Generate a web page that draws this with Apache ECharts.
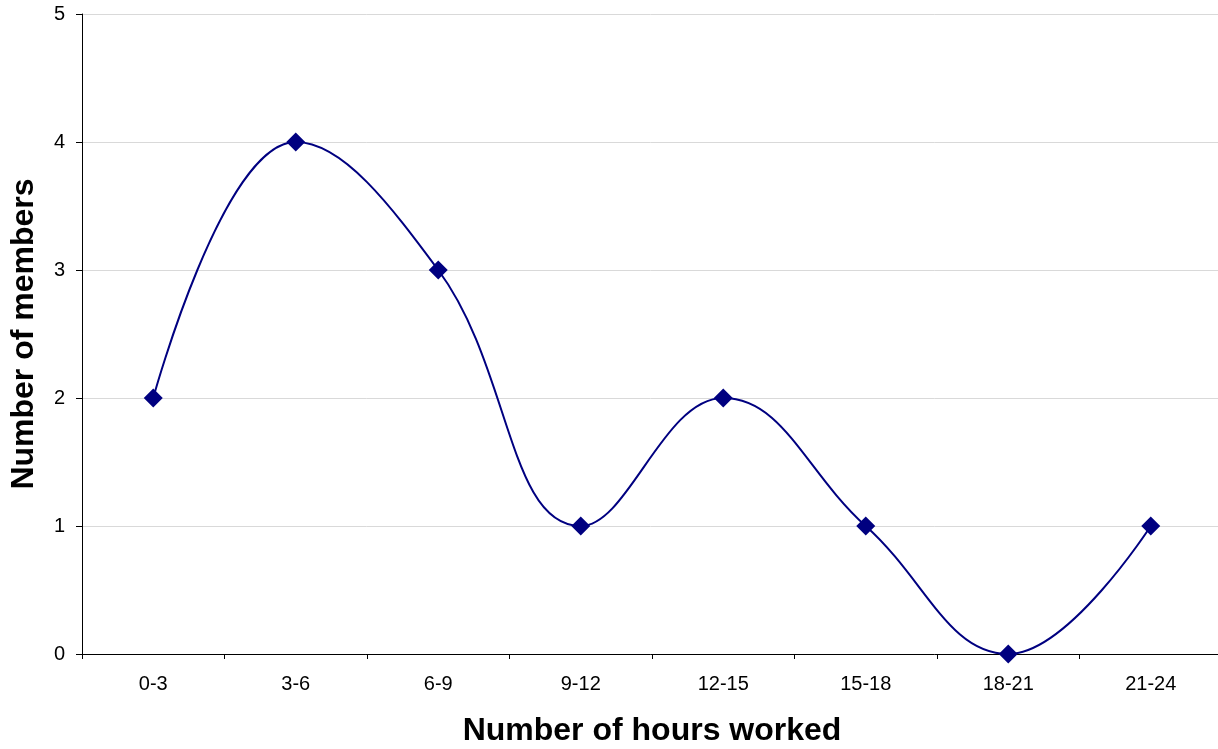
<!DOCTYPE html>
<html>
<head>
<meta charset="utf-8">
<script src="https://cdn.jsdelivr.net/npm/echarts@6/dist/echarts.min.js"></script>
<style>
html,body{margin:0;padding:0;background:#fff;}
#chart{width:1218px;height:749px;}
</style>
</head>
<body>
<div id="chart"></div>
<script>
const categories = ['0-3','3-6','6-9','9-12','12-15','15-18','18-21','21-24'];
const members = [2,4,3,1,2,1,0,1];
const yTicks = [0,1,2,3,4,5];
const xTitle = 'Number of hours worked';
const yTitle = 'Number of members';

const chart = echarts.init(document.getElementById('chart'));
const font = 'Liberation Sans, Arial, sans-serif';
chart.setOption({
  animation: false,
  backgroundColor: '#ffffff',
  grid: {left: 82, top: 14, width: 1140, height: 640, containLabel: false, outerBoundsMode: 'none'},
  xAxis: {
    type: 'category',
    data: categories,
    boundaryGap: true,
    name: xTitle,
    nameLocation: 'middle',
    nameGap: 61,
    nameTextStyle: {fontFamily: font, fontSize: 32, fontWeight: 'bold', color: '#000'},
    axisLine: {lineStyle: {color: '#000', width: 1}},
    axisTick: {show: true, interval: 0, length: 5, lineStyle: {color: '#000'}},
    axisLabel: {interval: 0, margin: 20, fontFamily: font, fontSize: 20, color: '#000'},
    splitLine: {show: false}
  },
  yAxis: {
    type: 'value',
    min: yTicks[0],
    max: yTicks[yTicks.length - 1],
    interval: 1,
    name: yTitle,
    nameLocation: 'middle',
    nameGap: 42,
    nameTextStyle: {fontFamily: font, fontSize: 32, fontWeight: 'bold', color: '#000'},
    axisLine: {show: true, lineStyle: {color: '#000', width: 1}},
    axisTick: {show: true, length: 6, lineStyle: {color: '#000'}},
    axisLabel: {margin: 17, fontFamily: font, fontSize: 20, color: '#000'},
    splitLine: {show: true, lineStyle: {color: '#d9d9d9', width: 1}}
  },
  series: [{
    type: 'line',
    data: members,
    smooth: 0.42,
    symbol: 'diamond',
    symbolSize: 19,
    itemStyle: {color: '#000080'},
    lineStyle: {color: '#000080', width: 2}
  }]
});
</script>
</body>
</html>
